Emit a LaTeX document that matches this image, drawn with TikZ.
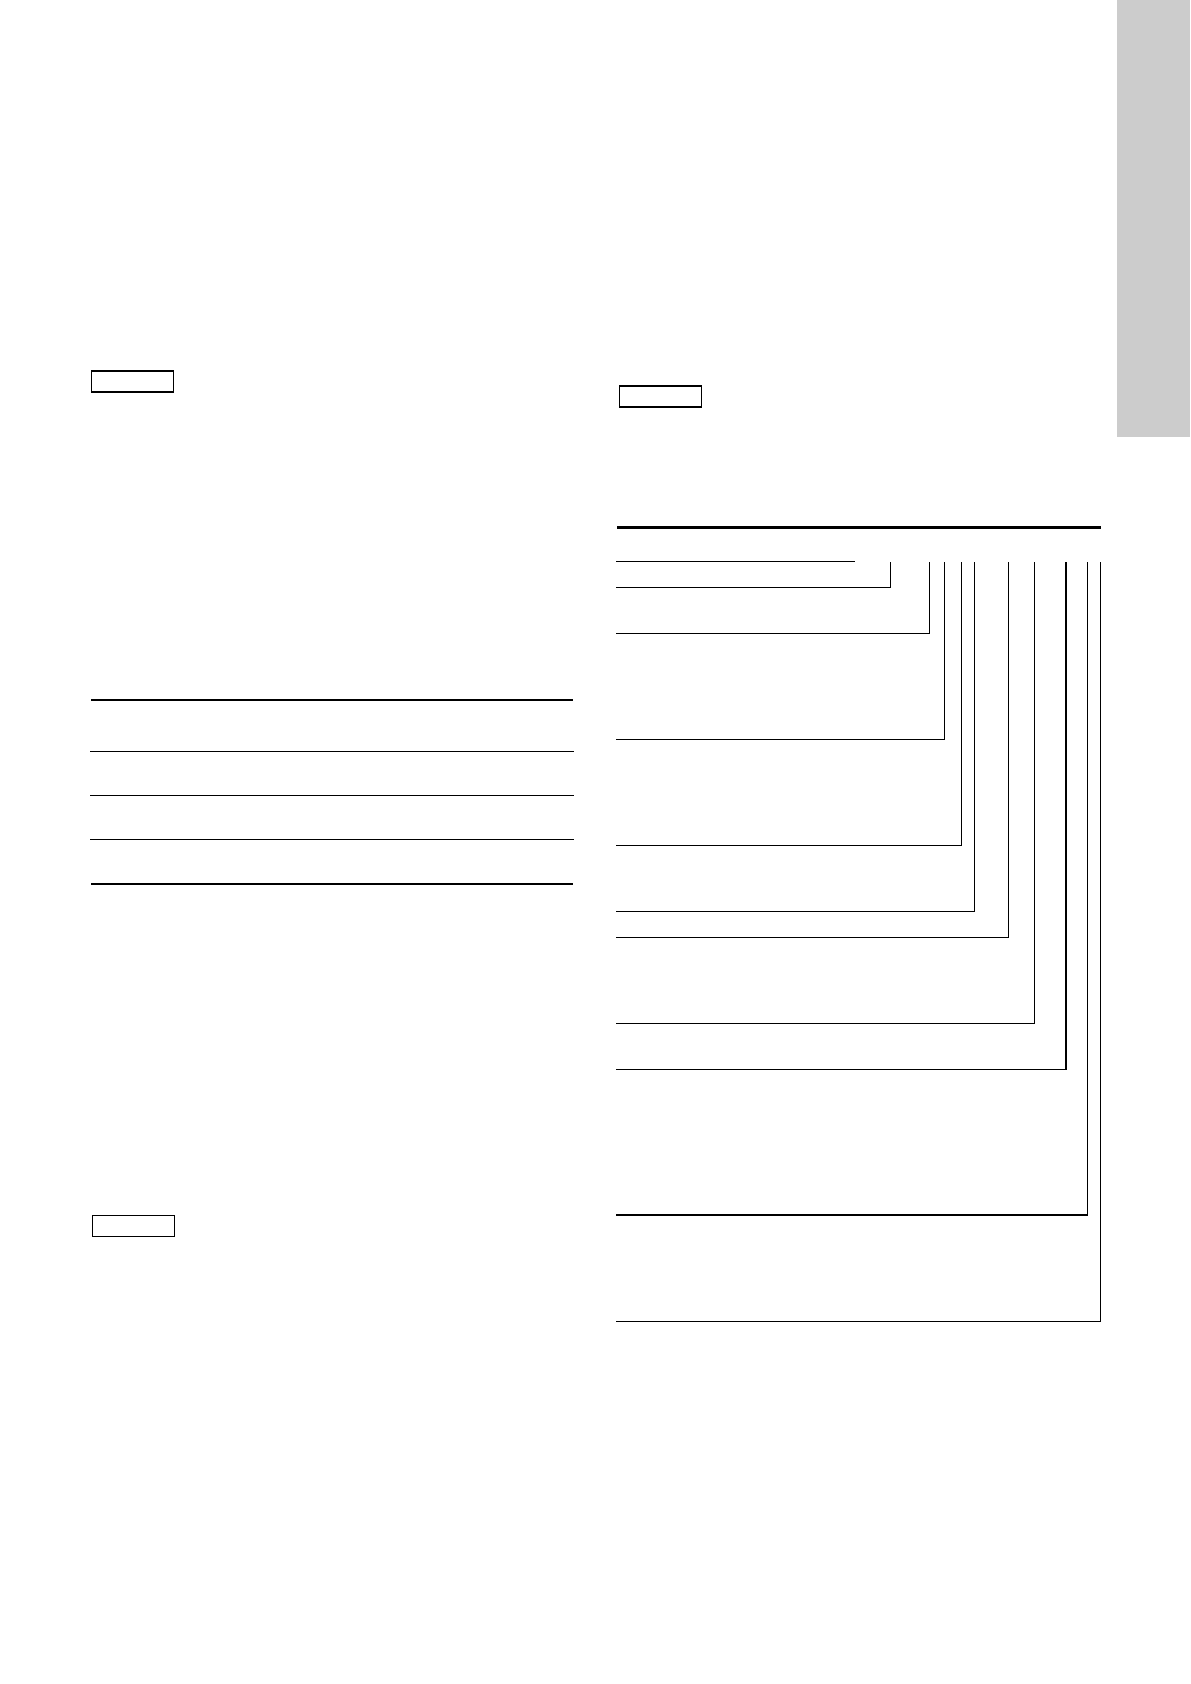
\documentclass[tikz,border=0pt]{standalone}
\begin{document}
\begin{tikzpicture}[x=0.5pt,y=-0.5pt,
  thin line/.style={line width=0.6pt, line cap=rect},
  thick line/.style={line width=1.1pt},
  tag box/.style={draw, line width=0.7pt, inner sep=0pt, minimum width=41pt, minimum height=10.5pt, anchor=north west}]
\useasboundingbox (0,0) rectangle (1190,1684);
\fill[white] (0,0) rectangle (1190,1684);
% grey side tab
\fill[black!20] (1117,0) rectangle (1190,437);
% label boxes
\node[tag box] (boxA) at (90.5,370.5) {};
\node[tag box] (boxB) at (618.5,385.5) {};
\node[tag box] (boxC) at (91.5,1214.5) {};
% left table rules
\draw[thick line] (91,700) -- (573,700);
\draw[thin line] (91,751.5) -- (573,751.5);
\draw[thin line] (91,795.5) -- (573,795.5);
\draw[thin line] (91,839.5) -- (573,839.5);
\draw[thick line] (91,884) -- (573,884);
% right key diagram
\draw[thick line] (617,527.5) -- (1100.5,527.5);
\draw[thin line] (617,561.5) -- (854,561.5);
\foreach \vx/\hy in {890.7/587.3, 929.3/633.3, 944.3/739.3, 961.7/845.3, 974.3/911.3, 1008.7/937.3, 1034.3/1023.3, 1066/1069.3, 1087.3/1215, 1100.3/1321.3}{
  \draw[thin line] (\vx,562.5) -- (\vx,\hy) -- (617,\hy);
}
\end{tikzpicture}
\end{document}
